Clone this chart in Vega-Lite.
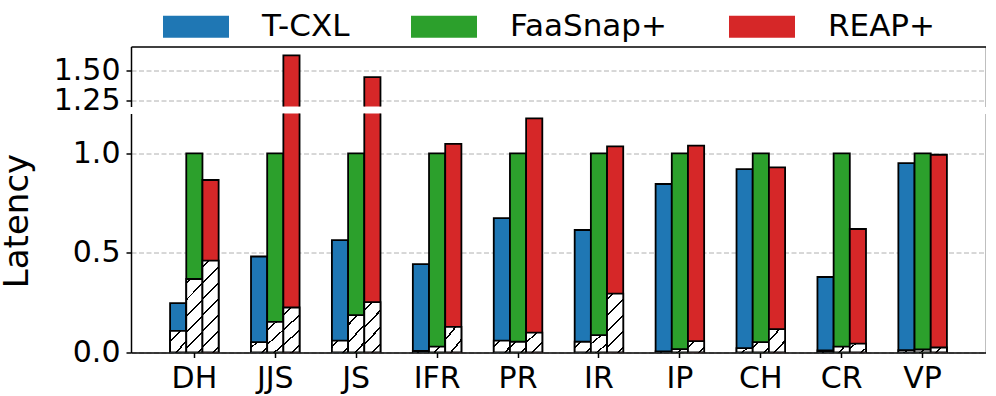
{
  "$schema": "https://vega.github.io/schema/vega-lite/v6.json",
  "padding": {"top": 9.5, "left": 0, "right": 0, "bottom": 0},
  "config": {
    "font": "DejaVu Sans",
    "view": {"stroke": null},
    "axis": {"domainColor": "black", "domainWidth": 1.5, "tickColor": "black", "tickWidth": 1.5, "tickSize": 5, "labelColor": "black", "labelFont": "DejaVu Sans", "labelFontSize": 30, "gridColor": "#b0b0b0", "gridDash": [5, 2.5], "gridWidth": 1},
    "legend": {"orient": "none", "legendX": 48.5, "legendY": -36.5, "direction": "horizontal", "symbolType": "M-2,-0.667H2V0.667H-2Z", "symbolSize": 1089, "symbolStrokeWidth": 0, "labelFontSize": 31, "labelFont": "DejaVu Sans", "labelColor": "black", "labelOffset": 49.5, "columnPadding": 61}
  },
  "datasets": {
    "bars": [
      {"cat": "DH", "sys": "T-CXL", "total": 0.248, "base": 0.109},
      {"cat": "DH", "sys": "FaaSnap+", "total": 1.0, "base": 0.369},
      {"cat": "DH", "sys": "REAP+", "total": 0.866, "base": 0.461},
      {"cat": "JJS", "sys": "T-CXL", "total": 0.482, "base": 0.052},
      {"cat": "JJS", "sys": "FaaSnap+", "total": 1.0, "base": 0.154},
      {"cat": "JJS", "sys": "REAP+", "total": 1.626, "base": 0.226},
      {"cat": "JS", "sys": "T-CXL", "total": 0.564, "base": 0.060},
      {"cat": "JS", "sys": "FaaSnap+", "total": 1.0, "base": 0.188},
      {"cat": "JS", "sys": "REAP+", "total": 1.444, "base": 0.253},
      {"cat": "IFR", "sys": "T-CXL", "total": 0.444, "base": 0.008},
      {"cat": "IFR", "sys": "FaaSnap+", "total": 1.0, "base": 0.030},
      {"cat": "IFR", "sys": "REAP+", "total": 1.047, "base": 0.129},
      {"cat": "PR", "sys": "T-CXL", "total": 0.675, "base": 0.060},
      {"cat": "PR", "sys": "FaaSnap+", "total": 1.0, "base": 0.054},
      {"cat": "PR", "sys": "REAP+", "total": 1.176, "base": 0.100},
      {"cat": "IR", "sys": "T-CXL", "total": 0.615, "base": 0.054},
      {"cat": "IR", "sys": "FaaSnap+", "total": 1.0, "base": 0.087},
      {"cat": "IR", "sys": "REAP+", "total": 1.035, "base": 0.296},
      {"cat": "IP", "sys": "T-CXL", "total": 0.846, "base": 0.005},
      {"cat": "IP", "sys": "FaaSnap+", "total": 1.0, "base": 0.017},
      {"cat": "IP", "sys": "REAP+", "total": 1.039, "base": 0.057},
      {"cat": "CH", "sys": "T-CXL", "total": 0.921, "base": 0.022},
      {"cat": "CH", "sys": "FaaSnap+", "total": 1.0, "base": 0.052},
      {"cat": "CH", "sys": "REAP+", "total": 0.930, "base": 0.117},
      {"cat": "CR", "sys": "T-CXL", "total": 0.379, "base": 0.010},
      {"cat": "CR", "sys": "FaaSnap+", "total": 1.0, "base": 0.030},
      {"cat": "CR", "sys": "REAP+", "total": 0.620, "base": 0.045},
      {"cat": "VP", "sys": "T-CXL", "total": 0.951, "base": 0.012},
      {"cat": "VP", "sys": "FaaSnap+", "total": 1.0, "base": 0.015},
      {"cat": "VP", "sys": "REAP+", "total": 0.993, "base": 0.025}
    ]
  },
  "data": {"name": "bars"},
  "resolve": {"scale": {"color": "shared"}},
  "spacing": 7,
  "bounds": "flush",
  "vconcat": [
    {
      "width": 855,
      "height": 60,
      "layer": [
        {
          "mark": {"type": "bar", "clip": true, "stroke": "black", "strokeWidth": 1.8},
          "encoding": {
            "x": {"field": "cat", "type": "nominal", "sort": ["DH", "JJS", "JS", "IFR", "PR", "IR", "IP", "CH", "CR", "VP"], "scale": {"paddingInner": 0.4, "paddingOuter": 0.483}, "axis": {"orient": "top", "title": null, "labels": false, "ticks": false, "domain": true, "grid": false}},
            "xOffset": {"field": "sys", "type": "nominal", "sort": ["T-CXL", "FaaSnap+", "REAP+"], "scale": {"paddingInner": 0, "paddingOuter": 0}},
            "y": {"field": "total", "type": "quantitative", "stack": null, "scale": {"domain": [1.2, 1.7], "nice": false, "zero": false}, "axis": {"values": [1.25, 1.5], "format": ".2f", "grid": true, "title": null, "labelPadding": 6}},
            "y2": {"datum": 0},
            "color": {"field": "sys", "type": "nominal", "sort": ["T-CXL", "FaaSnap+", "REAP+"], "scale": {"domain": ["T-CXL", "FaaSnap+", "REAP+"], "range": ["#1f77b4", "#2ca02c", "#d62728"]}, "legend": {"title": null}}
          }
        },
        {
          "mark": {"type": "bar", "clip": true, "stroke": "black", "strokeWidth": 1.8, "fill": "white"},
          "encoding": {
            "x": {"field": "cat", "type": "nominal", "sort": ["DH", "JJS", "JS", "IFR", "PR", "IR", "IP", "CH", "CR", "VP"], "scale": {"paddingInner": 0.4, "paddingOuter": 0.483}, "axis": {"orient": "top", "title": null, "labels": false, "ticks": false, "domain": true, "grid": false}},
            "xOffset": {"field": "sys", "type": "nominal", "sort": ["T-CXL", "FaaSnap+", "REAP+"], "scale": {"paddingInner": 0, "paddingOuter": 0}},
            "y": {"field": "base", "type": "quantitative", "stack": null, "axis": {"orient": "right", "labels": false, "ticks": false, "grid": false, "title": null, "domain": true}},
            "y2": {"datum": 0}
          }
        }
      ],
      "resolve": {"axis": {"y": "independent"}}
    },
    {
      "width": 855,
      "height": 239,
      "layer": [
        {
          "mark": {"type": "bar", "clip": true, "stroke": "black", "strokeWidth": 1.8},
          "encoding": {
            "x": {"field": "cat", "type": "nominal", "sort": ["DH", "JJS", "JS", "IFR", "PR", "IR", "IP", "CH", "CR", "VP"], "scale": {"paddingInner": 0.4, "paddingOuter": 0.483}, "axis": {"orient": "bottom", "title": null, "labelAngle": 0, "labelBaseline": "alphabetic", "labelPadding": 30, "ticks": true, "domain": true, "grid": false}},
            "xOffset": {"field": "sys", "type": "nominal", "sort": ["T-CXL", "FaaSnap+", "REAP+"], "scale": {"paddingInner": 0, "paddingOuter": 0}},
            "y": {"field": "total", "type": "quantitative", "stack": null, "scale": {"domain": [0, 1.2], "nice": false}, "axis": {"values": [0, 0.5, 1.0], "format": ".1f", "grid": true, "labelPadding": 6, "title": "Latency", "titleFont": "DejaVu Sans", "titleFontSize": 34, "titleFontWeight": "normal", "titleColor": "black", "titleAngle": 270, "titleX": -104, "titleY": 107, "titleAlign": "center", "titleBaseline": "alphabetic"}},
            "y2": {"datum": 0},
            "color": {"field": "sys", "type": "nominal", "sort": ["T-CXL", "FaaSnap+", "REAP+"], "scale": {"domain": ["T-CXL", "FaaSnap+", "REAP+"], "range": ["#1f77b4", "#2ca02c", "#d62728"]}, "legend": {"title": null}}
          }
        },
        {
          "mark": {"type": "bar", "clip": true, "stroke": "black", "strokeWidth": 1.8},
          "encoding": {
            "x": {"field": "cat", "type": "nominal", "sort": ["DH", "JJS", "JS", "IFR", "PR", "IR", "IP", "CH", "CR", "VP"], "scale": {"paddingInner": 0.4, "paddingOuter": 0.483}, "axis": {"orient": "bottom", "title": null, "labelAngle": 0, "labelBaseline": "alphabetic", "labelPadding": 30, "ticks": true, "domain": true, "grid": false}},
            "xOffset": {"field": "sys", "type": "nominal", "sort": ["T-CXL", "FaaSnap+", "REAP+"], "scale": {"paddingInner": 0, "paddingOuter": 0}},
            "y": {"field": "base", "type": "quantitative", "stack": null, "axis": {"orient": "right", "labels": false, "ticks": false, "grid": false, "title": null, "domain": true}},
            "y2": {"datum": 0},
            "fill": {
              "condition": [
                {"test": "datum.base < 0.040", "value": {"gradient": "linear", "x1": 0, "y1": 0, "x2": 1.195, "y2": 0.369, "stops": [{"offset": 0, "color": "#ffffff"}, {"offset": 0.453, "color": "#ffffff"}, {"offset": 0.453, "color": "#000000"}, {"offset": 0.547, "color": "#000000"}, {"offset": 0.547, "color": "#ffffff"}, {"offset": 1, "color": "#ffffff"}]}},
                {"test": "datum.base < 0.080", "value": {"gradient": "linear", "x1": 0, "y1": 0, "x2": 1.149, "y2": 0.780, "stops": [{"offset": 0, "color": "#ffffff"}, {"offset": 0.184, "color": "#ffffff"}, {"offset": 0.184, "color": "#000000"}, {"offset": 0.258, "color": "#000000"}, {"offset": 0.258, "color": "#ffffff"}, {"offset": 0.772, "color": "#ffffff"}, {"offset": 0.772, "color": "#000000"}, {"offset": 0.846, "color": "#000000"}, {"offset": 0.846, "color": "#ffffff"}, {"offset": 1, "color": "#ffffff"}]}},
                {"test": "datum.base < 0.140", "value": {"gradient": "linear", "x1": 0, "y1": 0, "x2": 0.857, "y2": 1.111, "stops": [{"offset": 0, "color": "#ffffff"}, {"offset": 0.258, "color": "#ffffff"}, {"offset": 0.258, "color": "#000000"}, {"offset": 0.312, "color": "#000000"}, {"offset": 0.312, "color": "#ffffff"}, {"offset": 0.688, "color": "#ffffff"}, {"offset": 0.688, "color": "#000000"}, {"offset": 0.742, "color": "#000000"}, {"offset": 0.742, "color": "#ffffff"}, {"offset": 1, "color": "#ffffff"}]}},
                {"test": "datum.base < 0.211", "value": {"gradient": "linear", "x1": 0, "y1": 0, "x2": 0.573, "y2": 1.203, "stops": [{"offset": 0, "color": "#ffffff"}, {"offset": 0.161, "color": "#ffffff"}, {"offset": 0.161, "color": "#000000"}, {"offset": 0.201, "color": "#000000"}, {"offset": 0.201, "color": "#ffffff"}, {"offset": 0.48, "color": "#ffffff"}, {"offset": 0.48, "color": "#000000"}, {"offset": 0.52, "color": "#000000"}, {"offset": 0.52, "color": "#ffffff"}, {"offset": 0.799, "color": "#ffffff"}, {"offset": 0.799, "color": "#000000"}, {"offset": 0.839, "color": "#000000"}, {"offset": 0.839, "color": "#ffffff"}, {"offset": 1, "color": "#ffffff"}]}},
                {"test": "datum.base < 0.271", "value": {"gradient": "linear", "x1": 0, "y1": 0, "x2": 0.405, "y2": 1.201, "stops": [{"offset": 0, "color": "#ffffff"}, {"offset": 0.110, "color": "#ffffff"}, {"offset": 0.110, "color": "#000000"}, {"offset": 0.142, "color": "#000000"}, {"offset": 0.142, "color": "#ffffff"}, {"offset": 0.359, "color": "#ffffff"}, {"offset": 0.359, "color": "#000000"}, {"offset": 0.391, "color": "#000000"}, {"offset": 0.391, "color": "#ffffff"}, {"offset": 0.609, "color": "#ffffff"}, {"offset": 0.609, "color": "#000000"}, {"offset": 0.641, "color": "#000000"}, {"offset": 0.641, "color": "#ffffff"}, {"offset": 0.858, "color": "#ffffff"}, {"offset": 0.858, "color": "#000000"}, {"offset": 0.890, "color": "#000000"}, {"offset": 0.890, "color": "#ffffff"}, {"offset": 1, "color": "#ffffff"}]}},
                {"test": "datum.base < 0.332", "value": {"gradient": "linear", "x1": 0, "y1": 0, "x2": 0.325, "y2": 1.185, "stops": [{"offset": 0, "color": "#ffffff"}, {"offset": 0.061, "color": "#ffffff"}, {"offset": 0.061, "color": "#000000"}, {"offset": 0.087, "color": "#000000"}, {"offset": 0.087, "color": "#ffffff"}, {"offset": 0.274, "color": "#ffffff"}, {"offset": 0.274, "color": "#000000"}, {"offset": 0.300, "color": "#000000"}, {"offset": 0.300, "color": "#ffffff"}, {"offset": 0.487, "color": "#ffffff"}, {"offset": 0.487, "color": "#000000"}, {"offset": 0.513, "color": "#000000"}, {"offset": 0.513, "color": "#ffffff"}, {"offset": 0.700, "color": "#ffffff"}, {"offset": 0.700, "color": "#000000"}, {"offset": 0.726, "color": "#000000"}, {"offset": 0.726, "color": "#ffffff"}, {"offset": 0.913, "color": "#ffffff"}, {"offset": 0.913, "color": "#000000"}, {"offset": 0.939, "color": "#000000"}, {"offset": 0.939, "color": "#ffffff"}, {"offset": 1, "color": "#ffffff"}]}},
                {"test": "datum.base < 0.412", "value": {"gradient": "linear", "x1": 0, "y1": 0, "x2": 0.258, "y2": 1.165, "stops": [{"offset": 0, "color": "#ffffff"}, {"offset": 0.041, "color": "#ffffff"}, {"offset": 0.041, "color": "#000000"}, {"offset": 0.063, "color": "#000000"}, {"offset": 0.063, "color": "#ffffff"}, {"offset": 0.220, "color": "#ffffff"}, {"offset": 0.220, "color": "#000000"}, {"offset": 0.242, "color": "#000000"}, {"offset": 0.242, "color": "#ffffff"}, {"offset": 0.399, "color": "#ffffff"}, {"offset": 0.399, "color": "#000000"}, {"offset": 0.421, "color": "#000000"}, {"offset": 0.421, "color": "#ffffff"}, {"offset": 0.579, "color": "#ffffff"}, {"offset": 0.579, "color": "#000000"}, {"offset": 0.601, "color": "#000000"}, {"offset": 0.601, "color": "#ffffff"}, {"offset": 0.758, "color": "#ffffff"}, {"offset": 0.758, "color": "#000000"}, {"offset": 0.780, "color": "#000000"}, {"offset": 0.780, "color": "#ffffff"}, {"offset": 0.937, "color": "#ffffff"}, {"offset": 0.937, "color": "#000000"}, {"offset": 0.959, "color": "#000000"}, {"offset": 0.959, "color": "#ffffff"}, {"offset": 1, "color": "#ffffff"}]}}
              ],
              "value": {"gradient": "linear", "x1": 0, "y1": 0, "x2": 0.201, "y2": 1.141, "stops": [{"offset": 0, "color": "#ffffff"}, {"offset": 0.047, "color": "#ffffff"}, {"offset": 0.047, "color": "#000000"}, {"offset": 0.065, "color": "#000000"}, {"offset": 0.065, "color": "#ffffff"}, {"offset": 0.195, "color": "#ffffff"}, {"offset": 0.195, "color": "#000000"}, {"offset": 0.213, "color": "#000000"}, {"offset": 0.213, "color": "#ffffff"}, {"offset": 0.343, "color": "#ffffff"}, {"offset": 0.343, "color": "#000000"}, {"offset": 0.361, "color": "#000000"}, {"offset": 0.361, "color": "#ffffff"}, {"offset": 0.491, "color": "#ffffff"}, {"offset": 0.491, "color": "#000000"}, {"offset": 0.509, "color": "#000000"}, {"offset": 0.509, "color": "#ffffff"}, {"offset": 0.639, "color": "#ffffff"}, {"offset": 0.639, "color": "#000000"}, {"offset": 0.657, "color": "#000000"}, {"offset": 0.657, "color": "#ffffff"}, {"offset": 0.787, "color": "#ffffff"}, {"offset": 0.787, "color": "#000000"}, {"offset": 0.805, "color": "#000000"}, {"offset": 0.805, "color": "#ffffff"}, {"offset": 0.935, "color": "#ffffff"}, {"offset": 0.935, "color": "#000000"}, {"offset": 0.953, "color": "#000000"}, {"offset": 0.953, "color": "#ffffff"}, {"offset": 1, "color": "#ffffff"}]}
            }
          }
        }
      ],
      "resolve": {"axis": {"y": "independent"}}
    }
  ]
}
